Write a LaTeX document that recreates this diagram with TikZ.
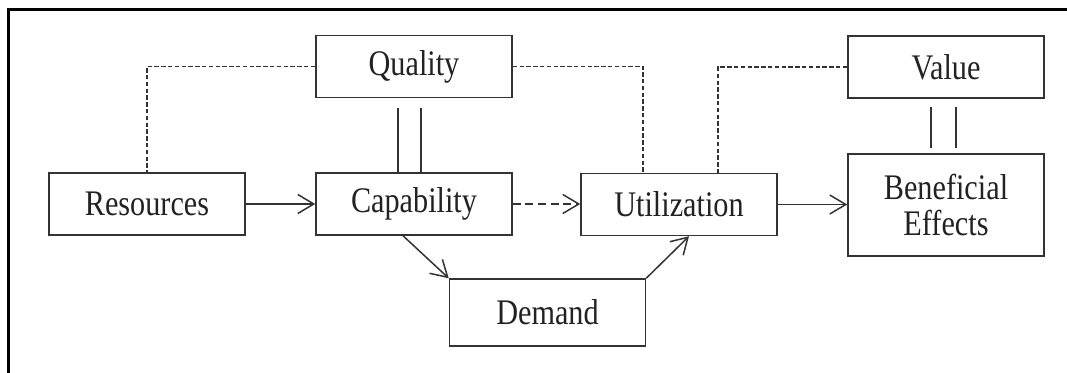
\documentclass[tikz,border=0pt]{standalone}
\usepackage{fontspec}
\setmainfont{Liberation Serif}[FakeStretch=0.84]
\usetikzlibrary{arrows.meta}
\definecolor{boxgray}{HTML}{333333}
\definecolor{textgray}{HTML}{222222}
\begin{document}
\begin{tikzpicture}[x=0.5pt,y=-0.5pt,
  box/.style={draw=boxgray,line width=0.75pt,fill=white,minimum width=98pt,minimum height=31pt,inner sep=0pt,font=\fontsize{18}{18}\selectfont,text=textgray},
  flow/.style={draw=boxgray,line width=0.75pt,-{Straight Barb[length=8pt,width=9.5pt]}},
  link/.style={draw=boxgray,line width=0.9pt,dash pattern=on 2.2pt off 1.2pt},
  twin/.style={draw=boxgray,line width=0.75pt}]
\useasboundingbox (0,0) rectangle (1067,373);
\draw[line width=1.5pt] (8.5,380) -- (8.5,10) -- (1075,10);
\node[box] (resources) at (147,204) {Resources};
\node[box] (capability) at (414,204) {Capability};
\node[box] (quality) at (414,66.5) {Quality};
\node[box] (utilization) at (679,204.5) {Utilization};
\node[box] (value) at (946,67) {Value};
\node[box,minimum height=51pt,align=center] (effects) at (946,205) {Beneficial\\Effects};
\node[box,minimum height=33.5pt] (demand) at (547.5,312.5) {Demand};
\draw[link] (quality.west) -| (resources.north);
\draw[link] (quality.east) -| ([xshift=-18pt]utilization.north);
\draw[link] (value.west) -| ([xshift=19.5pt]utilization.north);
\draw[twin] ([xshift=-8pt,yshift=-5pt]quality.south) -- ([xshift=-8pt]capability.north);
\draw[twin] ([xshift=3.5pt,yshift=-5pt]quality.south) -- ([xshift=3.5pt]capability.north);
\draw[twin] ([xshift=-7.5pt,yshift=-4pt]value.south) -- ([xshift=-7.5pt,yshift=2.5pt]effects.north);
\draw[twin] ([xshift=5pt,yshift=-4pt]value.south) -- ([xshift=5pt,yshift=2.5pt]effects.north);
\draw[flow] (resources) -- (capability);
\draw[flow,dash pattern=on 4pt off 2.3pt] (capability.east) -- (capability.east -| utilization.west);
\draw[flow] (utilization.east) -- (utilization.east -| effects.west);
\draw[flow] ([xshift=-5.5pt]capability.south) -- (demand.north west);
\draw[flow] (demand.north east) -- ([xshift=5pt]utilization.south);
\end{tikzpicture}
\end{document}
